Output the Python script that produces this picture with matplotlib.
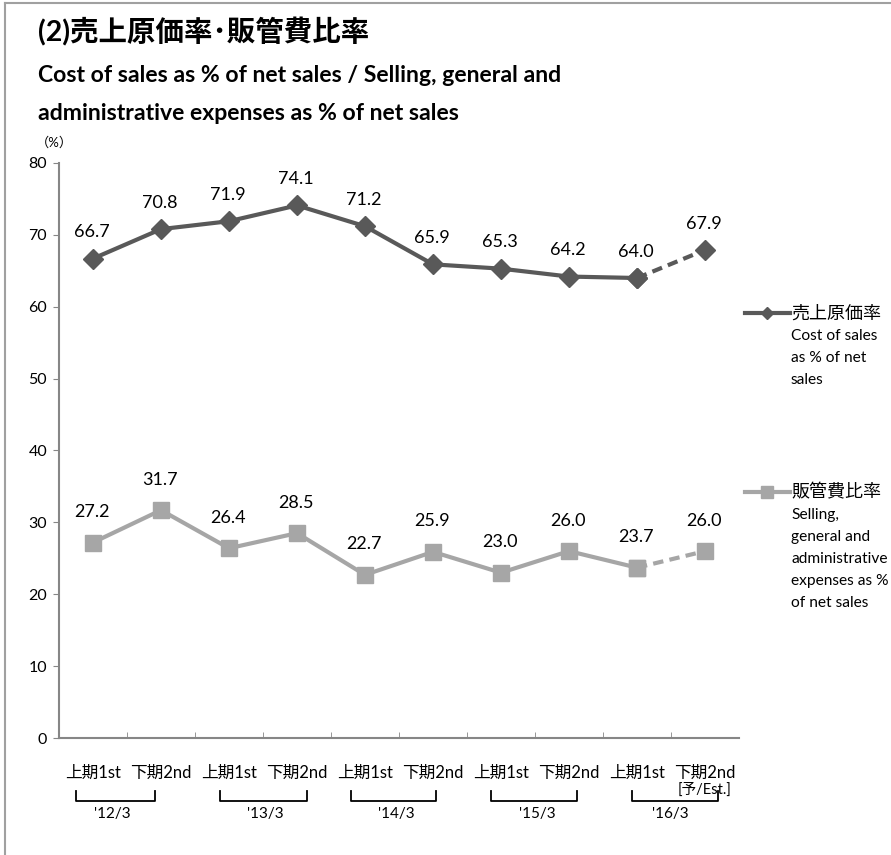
import matplotlib
matplotlib.use("Agg")
import matplotlib.pyplot as plt
from matplotlib.lines import Line2D

plt.rcParams['font.family'] = ['Lato', 'Noto Sans CJK JP', 'DejaVu Sans']

# data
halves = ["上期1st", "下期2nd"] * 5
years = ["'12/3", "'13/3", "'14/3", "'15/3", "'16/3"]
cost_ratio = [66.7, 70.8, 71.9, 74.1, 71.2, 65.9, 65.3, 64.2, 64.0, 67.9]
sga_ratio = [27.2, 31.7, 26.4, 28.5, 22.7, 25.9, 23.0, 26.0, 23.7, 26.0]
cost_label = ["売上原価率", "Cost of sales", "as % of net", "sales"]
sga_label = ["販管費比率", "Selling,", "general and", "administrative", "expenses as %", "of net sales"]

dark = "#595959"
light = "#A6A6A6"

W, H = 891, 855
fig = plt.figure(figsize=(W / 100, H / 100), dpi=100)

def fx(px):
    return px / W

def fy(py):
    return 1 - py / H

ax = fig.add_axes([fx(59), fy(738), fx(739) - fx(59), fy(163) - fy(738)])

x = [i + 0.5 for i in range(len(cost_ratio))]

# solid part (actual), dashed last segment (estimate)
ax.plot(x[:-1], cost_ratio[:-1], color=dark, lw=3, marker="D", ms=10, zorder=3)
ax.plot(x[-2:], cost_ratio[-2:], color=dark, lw=3, ls=(0, (2.5, 1.5)), marker="D", ms=10, zorder=3)
ax.plot(x[:-1], sga_ratio[:-1], color=light, lw=3, marker="s", ms=11.5, zorder=3)
ax.plot(x[-2:], sga_ratio[-2:], color=light, lw=3, ls=(0, (2.5, 1.5)), marker="s", ms=11.5, zorder=3)

for xi, v in zip(x, cost_ratio):
    ax.annotate(f"{v:.1f}", (xi, v), xytext=(-1, 19), textcoords="offset points",
                ha="center", va="center", fontsize=13)
for xi, v in zip(x, sga_ratio):
    ax.annotate(f"{v:.1f}", (xi, v), xytext=(-1, 22), textcoords="offset points",
                ha="center", va="center", fontsize=13)

ax.set_xlim(0, 10)
ax.set_ylim(0, 80)
ax.set_yticks(range(0, 81, 10))
ax.tick_params(axis="y", direction="out", length=4, color="#868686", labelsize=11.5, pad=4.5)
ax.set_xticks(x)
ax.set_xticklabels(halves, fontsize=12)
ax.tick_params(axis="x", length=0, pad=19)
ax.set_xticks(range(1, 10), minor=True)
ax.tick_params(axis="x", which="minor", direction="in", length=4, color="#868686")

for s in ["top", "right"]:
    ax.spines[s].set_visible(False)
for s in ["left", "bottom"]:
    ax.spines[s].set_color("#868686")
    ax.spines[s].set_linewidth(1.5)

# estimate marker under last category
trans = ax.get_xaxis_transform()
ax.text(9.49, -0.09, "[予/Est.]", transform=trans, ha="center", va="center",
        fontsize=10.5, clip_on=False)

# year brackets
brackets = [(0.25, 1.41), (2.37, 3.65), (4.29, 5.54), (6.35, 7.62), (8.43, 9.69)]
label_x = [0.79, 3.04, 4.96, 7.03, 8.99]
for (a, b), lx, yr in zip(brackets, label_x, years):
    ax.plot([a, a, b, b], [-0.092, -0.11, -0.11, -0.092], transform=trans,
            color="black", lw=1.3, clip_on=False)
    ax.text(lx, -0.133, yr, transform=trans, ha="center", va="center",
            fontsize=11, clip_on=False)

# legend drawn by hand
for y0, lab, col, mk, ms in [(313, cost_label, dark, "D", 6), (492, sga_label, light, "s", 9)]:
    fig.add_artist(Line2D([fx(745), fx(790)], [fy(y0), fy(y0)], color=col, lw=3))
    fig.add_artist(Line2D([fx(767)], [fy(y0)], color=col, marker=mk, ms=ms))
    fig.text(fx(791), fy(y0), lab[0], fontsize=13, va="center", ha="left")
    for k, line in enumerate(lab[1:]):
        fig.text(fx(791), fy(y0 + 23 + 22 * k), line, fontsize=11.2, va="center", ha="left")

# titles
fig.text(fx(38), fy(32), "(2)売上原価率･販管費比率", fontsize=20.5, fontweight="bold",
         va="center", ha="left")
fig.text(fx(38), fy(75), "Cost of sales as % of net sales / Selling, general and",
         fontsize=16.6, fontweight="bold", va="center", ha="left")
fig.text(fx(38), fy(113), "administrative expenses as % of net sales",
         fontsize=16.6, fontweight="bold", va="center", ha="left")
fig.text(fx(36), fy(142), "（%）", fontsize=9.5, va="center", ha="left")

# frame of the slide
fig.add_artist(Line2D([fx(5), fx(5)], [0, fy(3)], color="#A0A0A0", lw=1.5))
fig.add_artist(Line2D([fx(5), 1], [fy(3), fy(3)], color="#A0A0A0", lw=1.5))

fig.savefig("out.png", dpi=100)
